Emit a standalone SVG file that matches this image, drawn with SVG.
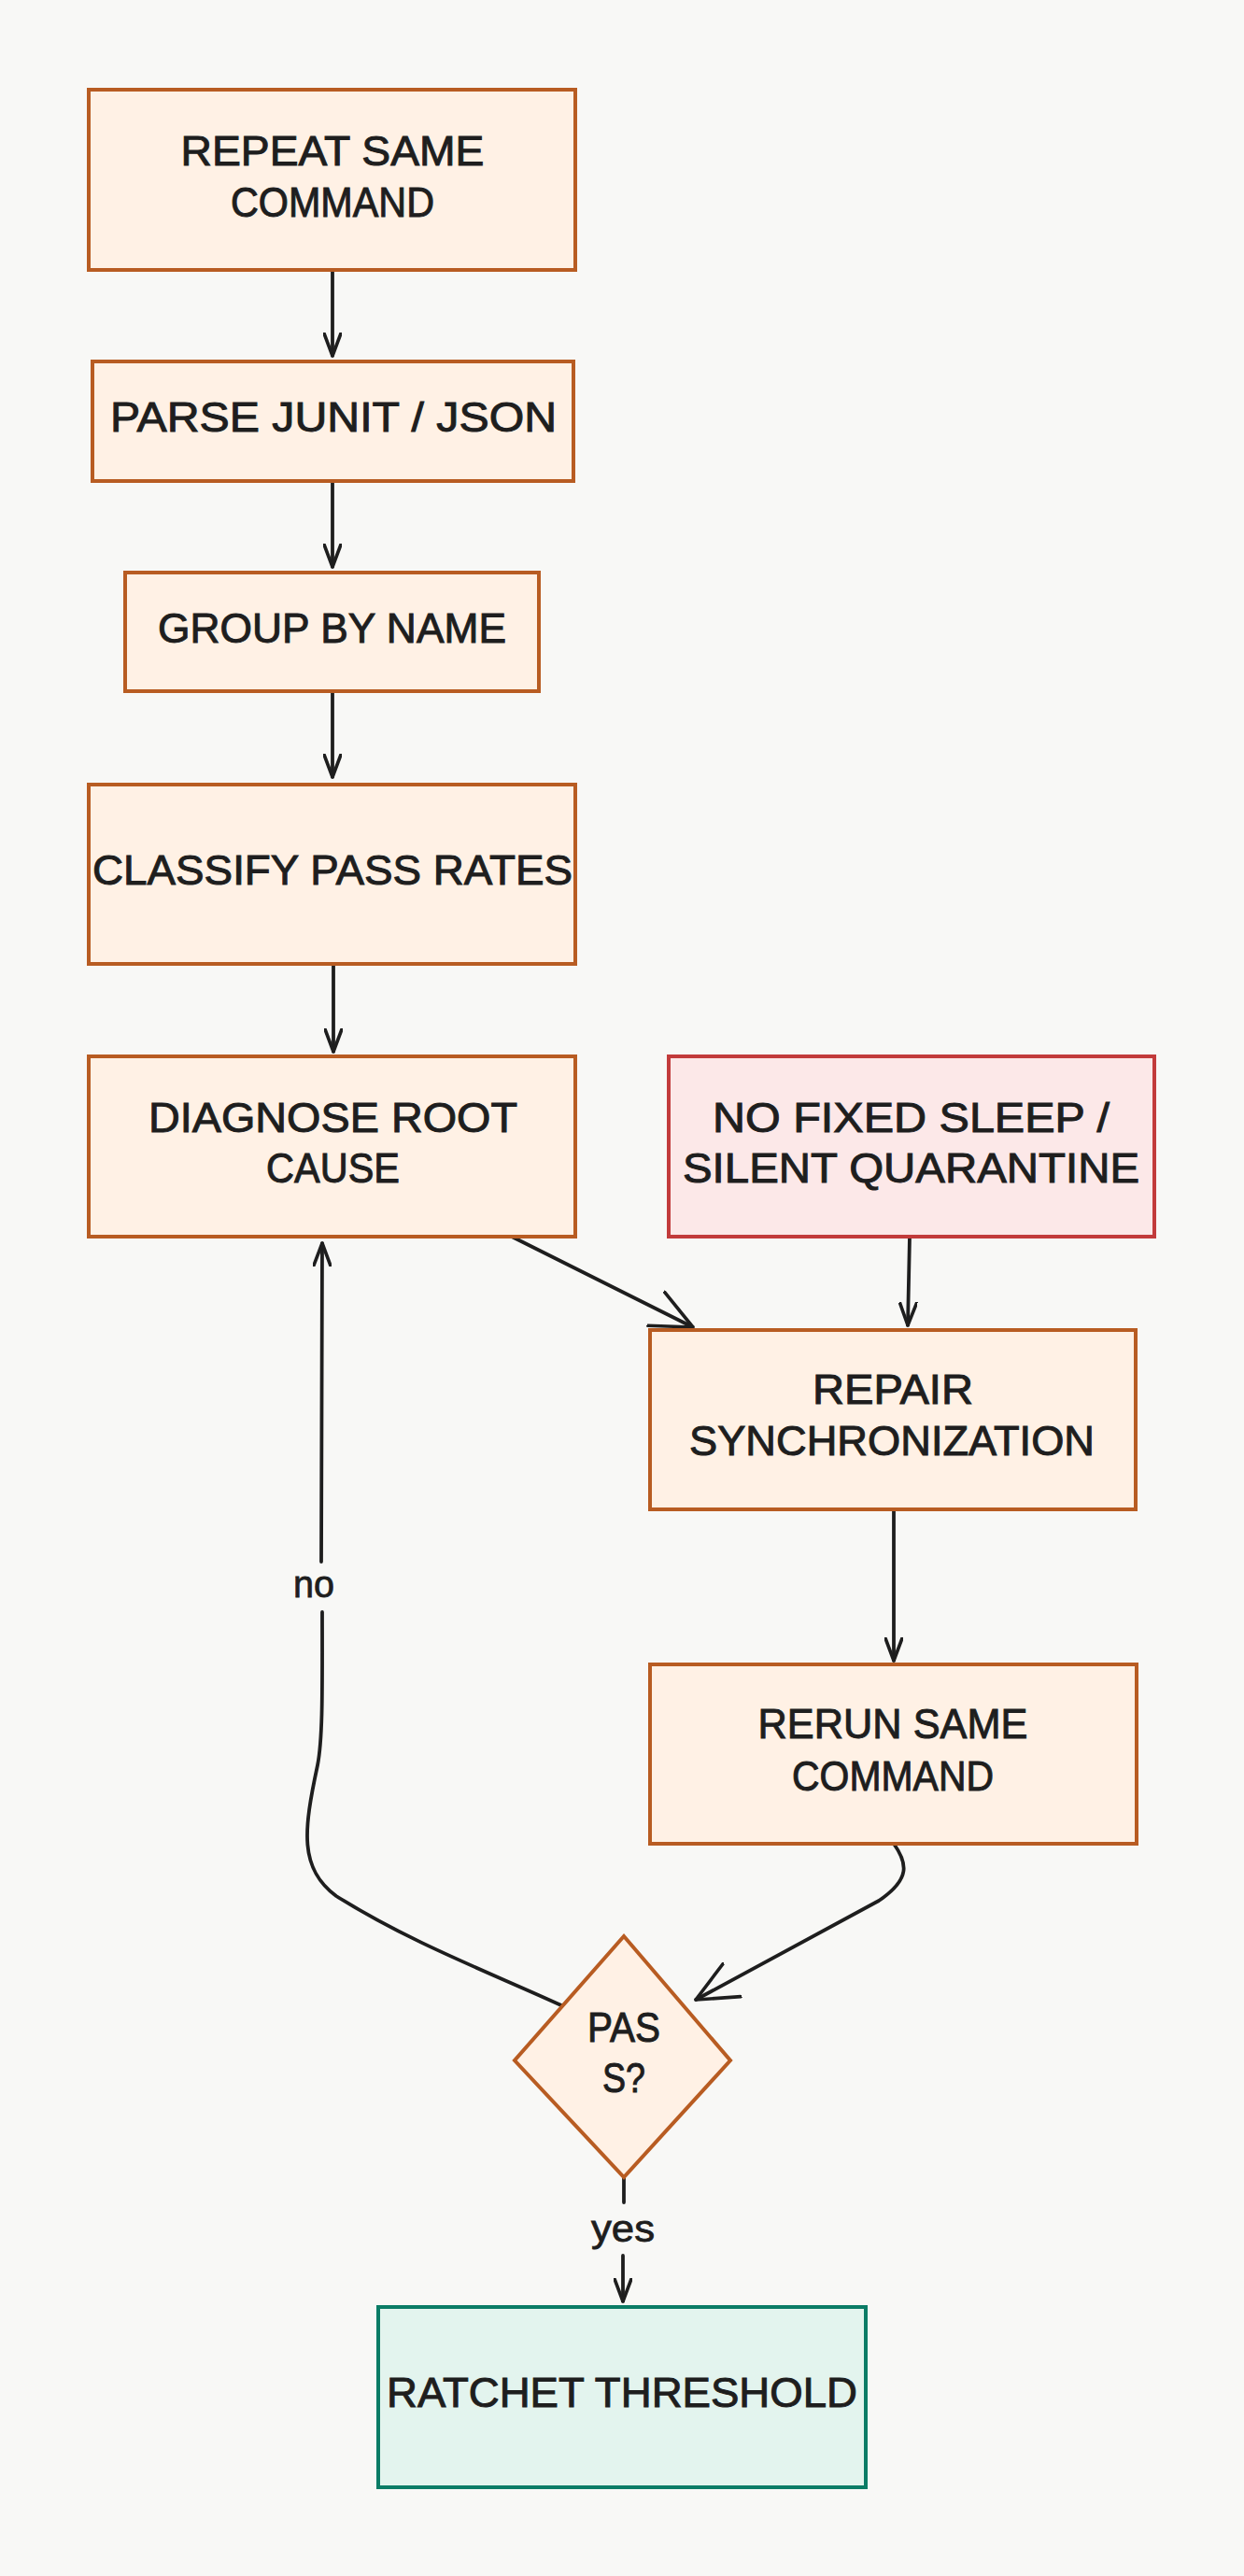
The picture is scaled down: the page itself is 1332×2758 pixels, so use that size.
<svg xmlns="http://www.w3.org/2000/svg" width="1332" height="2758" viewBox="0 0 1332 2758">
<defs>
<style>
.bg{fill:#f8f8f6}
.box{fill:#fff1e5;stroke:#b85c22;stroke-width:4}
.warn{fill:#fce8e8;stroke:#c23b3b;stroke-width:4}
.ok{fill:#e3f4ee;stroke:#0b7c66;stroke-width:4}
.t{font-family:"Liberation Sans",Arial,sans-serif;font-size:45px;fill:#1e1e1e;stroke:#1e1e1e;stroke-width:1;text-anchor:middle}
.lbl{font-family:"Liberation Sans",Arial,sans-serif;font-size:40px;fill:#1e1e1e;stroke:#1e1e1e;stroke-width:0.8;text-anchor:middle}
.c{fill:none;stroke:#1e1e1e;stroke-width:3.8;stroke-linecap:round;stroke-linejoin:round}
</style>
<marker id="a" viewBox="0 0 26 20" refX="25" refY="10" markerWidth="26" markerHeight="20" markerUnits="userSpaceOnUse" orient="auto">
<path d="M1,1 L25,10 L1,19" fill="none" stroke="#1e1e1e" stroke-width="3.6" stroke-linecap="round" stroke-linejoin="round"/>
</marker>
<marker id="aL" viewBox="0 0 46 44" refX="45" refY="22" markerWidth="46" markerHeight="44" markerUnits="userSpaceOnUse" orient="auto">
<path d="M1,2 L45,22 L1,42" fill="none" stroke="#1e1e1e" stroke-width="3.6" stroke-linecap="round" stroke-linejoin="round"/>
</marker>
</defs>
<rect class="bg" x="0" y="0" width="1332" height="2758"/>

<g id="connectors">
<path class="c" d="M356,289 L356,381" marker-end="url(#a)"/>
<path class="c" d="M356,515 L356,607" marker-end="url(#a)"/>
<path class="c" d="M356,740 L356,832" marker-end="url(#a)"/>
<path class="c" d="M357,1032 L357,1126" marker-end="url(#a)"/>
<path class="c" d="M548,1324 L742,1421" marker-end="url(#aL)"/>
<path class="c" d="M974,1324 L972,1419" marker-end="url(#a)"/>
<path class="c" d="M957,1616 L957,1778" marker-end="url(#a)"/>
<path class="c" d="M957,1974 C972,1995 975,2012 941,2035 L745,2141" marker-end="url(#aL)"/>
<path class="c" d="M601,2147 C520,2110 440,2080 360,2030 C320,2000 325,1960 340,1890 C346,1860 345,1800 345,1726"/>
<path class="c" d="M344,1672 L345,1331" marker-end="url(#a)"/>
<path class="c" d="M668,2303 L668,2358"/>
<path class="c" d="M667,2415 L667,2464" marker-end="url(#a)"/>
<text class="lbl" x="336" y="1710" textLength="44" lengthAdjust="spacingAndGlyphs">no</text>
<text class="lbl" x="667" y="2400" textLength="68" lengthAdjust="spacingAndGlyphs">yes</text>
</g>

<g id="n1">
<rect class="box" x="95" y="96" width="521" height="193"/>
<text class="t" x="356" y="177" textLength="325" lengthAdjust="spacingAndGlyphs">REPEAT SAME</text>
<text class="t" x="356" y="232" textLength="218" lengthAdjust="spacingAndGlyphs">COMMAND</text>
</g>
<g id="n2">
<rect class="box" x="99" y="387" width="515" height="128"/>
<text class="t" x="357" y="462" textLength="478" lengthAdjust="spacingAndGlyphs">PARSE JUNIT / JSON</text>
</g>
<g id="n3">
<rect class="box" x="134" y="613" width="443" height="127"/>
<text class="t" x="355.5" y="688" textLength="373" lengthAdjust="spacingAndGlyphs">GROUP BY NAME</text>
</g>
<g id="n4">
<rect class="box" x="95" y="840" width="521" height="192"/>
<text class="t" x="356" y="947" textLength="514" lengthAdjust="spacingAndGlyphs">CLASSIFY PASS RATES</text>
</g>
<g id="n5">
<rect class="box" x="95" y="1131" width="521" height="193"/>
<text class="t" x="356.5" y="1212" textLength="395" lengthAdjust="spacingAndGlyphs">DIAGNOSE ROOT</text>
<text class="t" x="356.5" y="1266" textLength="143" lengthAdjust="spacingAndGlyphs">CAUSE</text>
</g>
<g id="n6">
<rect class="warn" x="716" y="1131" width="520" height="193"/>
<text class="t" x="975.5" y="1212" textLength="425" lengthAdjust="spacingAndGlyphs">NO FIXED SLEEP /</text>
<text class="t" x="975.5" y="1266" textLength="489" lengthAdjust="spacingAndGlyphs">SILENT QUARANTINE</text>
</g>
<g id="n7">
<rect class="box" x="696" y="1424" width="520" height="192"/>
<text class="t" x="956" y="1503" textLength="172" lengthAdjust="spacingAndGlyphs">REPAIR</text>
<text class="t" x="955" y="1558" textLength="434" lengthAdjust="spacingAndGlyphs">SYNCHRONIZATION</text>
</g>
<g id="n8">
<rect class="box" x="696" y="1782" width="521" height="192"/>
<text class="t" x="956" y="1861" textLength="289" lengthAdjust="spacingAndGlyphs">RERUN SAME</text>
<text class="t" x="956" y="1917" textLength="216" lengthAdjust="spacingAndGlyphs">COMMAND</text>
</g>
<g id="n9">
<path class="box" d="M668,2073 L782,2206 L668,2331 L551,2206 Z"/>
<text class="t" x="668" y="2186" textLength="78" lengthAdjust="spacingAndGlyphs">PAS</text>
<text class="t" x="668" y="2240" textLength="46" lengthAdjust="spacingAndGlyphs">S?</text>
</g>
<g id="n10">
<rect class="ok" x="405" y="2470" width="522" height="193"/>
<text class="t" x="666" y="2577" textLength="504" lengthAdjust="spacingAndGlyphs">RATCHET THRESHOLD</text>
</g>
</svg>
